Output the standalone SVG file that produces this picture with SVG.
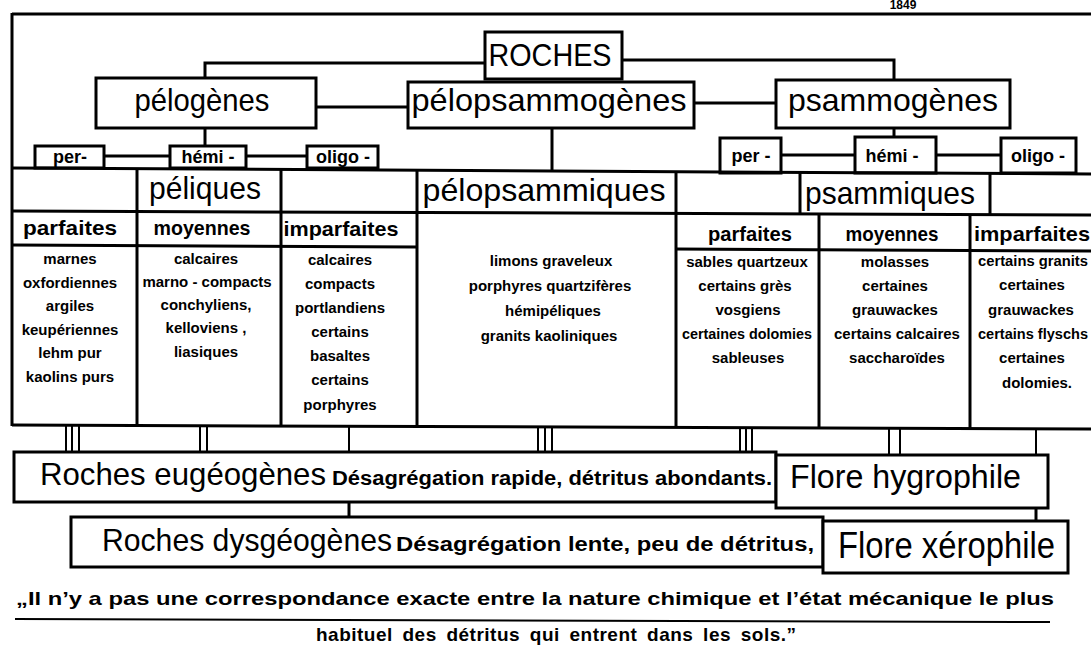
<svg xmlns="http://www.w3.org/2000/svg" width="1091" height="646" viewBox="0 0 1091 646">
<style>
.bx{fill:#fff;stroke:#000;stroke-width:3}
.ln{fill:none;stroke:#000;stroke-width:3}
.lt{fill:none;stroke:#000;stroke-width:2}
text{font-family:"Liberation Sans",Arial,sans-serif;fill:#000}
.big{font-size:32px;text-anchor:middle}
.bl{font-size:32px}
.hd{font-size:21px;font-weight:bold;text-anchor:middle}
.sm{font-size:18px;font-weight:bold;text-anchor:middle}
.ct{font-size:15px;font-weight:bold;text-anchor:middle}
.ds{font-size:20px;font-weight:bold}
.q{font-size:19px;font-weight:bold}
</style>
<rect width="1091" height="646" fill="#fff"/>
<text x="903" y="9" font-size="12" font-weight="bold" text-anchor="middle">1849</text>

<g id="frame" class="ln">
  <line x1="12" y1="14" x2="1091" y2="14"/>
  <line x1="12" y1="13" x2="12" y2="426"/>
</g>

<g id="connectors">
  <g class="ln">
    <polyline points="485,63 205,63 205,78"/>
    <polyline points="622,60 894,60 894,80"/>
    <line x1="316" y1="107" x2="408" y2="107"/>
    <line x1="694" y1="103" x2="776" y2="103"/>
    <line x1="205" y1="128" x2="205" y2="146"/>
    <line x1="552" y1="128" x2="552" y2="171"/>
    <line x1="894" y1="128" x2="894" y2="138"/>
    <line x1="104" y1="156" x2="170" y2="156"/>
    <line x1="246" y1="156" x2="307" y2="156"/>
    <line x1="781" y1="155" x2="855" y2="155"/>
    <line x1="936" y1="155" x2="1001" y2="155"/>
    <line x1="349" y1="502" x2="349" y2="517"/>
    <line x1="1036" y1="508" x2="1036" y2="522"/>
  </g>
  <g class="lt">
    <line x1="66" y1="426" x2="66" y2="452"/>
    <line x1="72" y1="426" x2="72" y2="452"/>
    <line x1="79" y1="426" x2="79" y2="452"/>
    <line x1="200" y1="426" x2="200" y2="452"/>
    <line x1="207" y1="426" x2="207" y2="452"/>
    <line x1="349" y1="427" x2="349" y2="452"/>
    <line x1="538" y1="427" x2="538" y2="453"/>
    <line x1="545" y1="427" x2="545" y2="453"/>
    <line x1="552" y1="427" x2="552" y2="453"/>
    <line x1="740" y1="428" x2="740" y2="454"/>
    <line x1="746" y1="428" x2="746" y2="454"/>
    <line x1="752" y1="428" x2="752" y2="454"/>
    <line x1="889" y1="428" x2="889" y2="456"/>
    <line x1="900" y1="428" x2="900" y2="456"/>
    <line x1="1036" y1="429" x2="1036" y2="456"/>
  </g>
</g>

<g id="roches">
  <rect class="bx" x="485" y="32" width="137" height="47"/>
  <text class="big" x="550" y="66" textLength="123" lengthAdjust="spacingAndGlyphs">ROCHES</text>
</g>
<g id="pelogenes">
  <rect class="bx" x="96" y="78" width="220" height="50"/>
  <text class="big" x="202" y="111" textLength="135" lengthAdjust="spacingAndGlyphs">pélogènes</text>
</g>
<g id="pelopsammogenes">
  <rect class="bx" x="408" y="82" width="286" height="46"/>
  <text class="big" x="549" y="111" textLength="275" lengthAdjust="spacingAndGlyphs">pélopsammogènes</text>
</g>
<g id="psammogenes">
  <rect class="bx" x="776" y="80" width="234" height="48"/>
  <text class="big" x="893" y="111" textLength="210" lengthAdjust="spacingAndGlyphs">psammogènes</text>
</g>

<g id="pel-per"><rect class="bx" x="35" y="146" width="69" height="22"/><text class="sm" x="70" y="163">per-</text></g>
<g id="pel-hemi"><rect class="bx" x="170" y="146" width="76" height="22"/><text class="sm" x="208" y="163">hémi -</text></g>
<g id="pel-oligo"><rect class="bx" x="307" y="146" width="71" height="22"/><text class="sm" x="343" y="163">oligo -</text></g>
<g id="psa-per"><rect class="bx" x="720" y="138" width="61" height="35"/><text class="sm" x="751" y="162">per -</text></g>
<g id="psa-hemi"><rect class="bx" x="855" y="137" width="81" height="36"/><text class="sm" x="892" y="162">hémi -</text></g>
<g id="psa-oligo"><rect class="bx" x="1001" y="138" width="75" height="35"/><text class="sm" x="1038" y="162">oligo -</text></g>

<g id="table" class="ln">
  <line x1="12" y1="168" x2="1091" y2="174"/>
  <line x1="12" y1="211" x2="1091" y2="215"/>
  <line x1="12" y1="245" x2="417" y2="247"/>
  <line x1="676" y1="249" x2="1091" y2="251"/>
  <line x1="12" y1="425" x2="1091" y2="429"/>
  <line x1="137" y1="168" x2="137" y2="426"/>
  <line x1="281" y1="169" x2="281" y2="426"/>
  <line x1="417" y1="170" x2="417" y2="427"/>
  <line x1="676" y1="171" x2="676" y2="428"/>
  <line x1="800" y1="172" x2="800" y2="214"/>
  <line x1="990" y1="173" x2="990" y2="215"/>
  <line x1="819" y1="214" x2="819" y2="429"/>
  <line x1="970" y1="215" x2="970" y2="429"/>
</g>

<g id="peliques"><text class="big" x="205" y="199" textLength="112" lengthAdjust="spacingAndGlyphs">péliques</text></g>
<g id="pelopsammiques"><text class="big" x="544" y="201" textLength="243" lengthAdjust="spacingAndGlyphs">pélopsammiques</text></g>
<g id="psammiques"><text class="big" x="890" y="204" textLength="170" lengthAdjust="spacingAndGlyphs">psammiques</text></g>

<g id="pel-parfaites">
  <text class="hd" x="70" y="235" textLength="94" lengthAdjust="spacingAndGlyphs">parfaites</text>
  <text class="ct" x="70" y="264">marnes</text>
  <text class="ct" x="70" y="288">oxfordiennes</text>
  <text class="ct" x="70" y="311">argiles</text>
  <text class="ct" x="70" y="335">keupériennes</text>
  <text class="ct" x="70" y="358">lehm  pur</text>
  <text class="ct" x="70" y="382">kaolins  purs</text>
</g>
<g id="pel-moyennes">
  <text class="hd" x="202" y="235" textLength="97" lengthAdjust="spacingAndGlyphs">moyennes</text>
  <text class="ct" x="206" y="264">calcaires</text>
  <text class="ct" x="207" y="287">marno - compacts</text>
  <text class="ct" x="206" y="310">conchyliens,</text>
  <text class="ct" x="206" y="333">kelloviens ,</text>
  <text class="ct" x="206" y="357">liasiques</text>
</g>
<g id="pel-imparfaites">
  <text class="hd" x="341" y="236" textLength="115" lengthAdjust="spacingAndGlyphs">imparfaites</text>
  <text class="ct" x="340" y="265">calcaires</text>
  <text class="ct" x="340" y="289">compacts</text>
  <text class="ct" x="340" y="313">portlandiens</text>
  <text class="ct" x="340" y="337">certains</text>
  <text class="ct" x="340" y="361">basaltes</text>
  <text class="ct" x="340" y="385">certains</text>
  <text class="ct" x="340" y="410">porphyres</text>
</g>
<g id="pelopsammiques-list">
  <text class="ct" x="551" y="266">limons  graveleux</text>
  <text class="ct" x="550" y="291">porphyres  quartzifères</text>
  <text class="ct" x="553" y="316">hémipéliques</text>
  <text class="ct" x="549" y="341">granits  kaoliniques</text>
</g>
<g id="psa-parfaites">
  <text class="hd" x="750" y="241" textLength="84" lengthAdjust="spacingAndGlyphs">parfaites</text>
  <text class="ct" x="747" y="267">sables quartzeux</text>
  <text class="ct" x="745" y="291">certains  grès</text>
  <text class="ct" x="748" y="315">vosgiens</text>
  <text class="ct" x="747" y="339" textLength="130" lengthAdjust="spacingAndGlyphs">certaines dolomies</text>
  <text class="ct" x="748" y="363">sableuses</text>
</g>
<g id="psa-moyennes">
  <text class="hd" x="892" y="241" textLength="93" lengthAdjust="spacingAndGlyphs">moyennes</text>
  <text class="ct" x="895" y="267">molasses</text>
  <text class="ct" x="895" y="291">certaines</text>
  <text class="ct" x="895" y="315">grauwackes</text>
  <text class="ct" x="897" y="339">certains  calcaires</text>
  <text class="ct" x="897" y="363">saccharoïdes</text>
</g>
<g id="psa-imparfaites">
  <text class="hd" x="1032" y="241" textLength="116" lengthAdjust="spacingAndGlyphs">imparfaites</text>
  <text class="ct" x="1033" y="266" textLength="110" lengthAdjust="spacingAndGlyphs">certains granits</text>
  <text class="ct" x="1032" y="290">certaines</text>
  <text class="ct" x="1031" y="315">grauwackes</text>
  <text class="ct" x="1033" y="339" textLength="110" lengthAdjust="spacingAndGlyphs">certains flyschs</text>
  <text class="ct" x="1032" y="363">certaines</text>
  <text class="ct" x="1037" y="388">dolomies.</text>
</g>

<g id="eugeogenes">
  <rect class="bx" x="14" y="452" width="762" height="50"/>
  <text class="bl" x="40" y="485" textLength="286" lengthAdjust="spacingAndGlyphs">Roches  eugéogènes</text>
  <text class="ds" x="332" y="485" textLength="440" lengthAdjust="spacingAndGlyphs">Désagrégation  rapide, détritus  abondants.</text>
</g>
<g id="hygrophile">
  <rect class="bx" x="776" y="455" width="272" height="53"/>
  <text x="790" y="488" font-size="34" textLength="231" lengthAdjust="spacingAndGlyphs">Flore  hygrophile</text>
</g>
<g id="dysgeogenes">
  <rect class="bx" x="71" y="517" width="752" height="50"/>
  <text class="bl" x="102" y="551" textLength="290" lengthAdjust="spacingAndGlyphs">Roches  dysgéogènes</text>
  <text class="ds" x="396" y="551" textLength="418" lengthAdjust="spacingAndGlyphs">Désagrégation  lente, peu  de  détritus,</text>
</g>
<g id="xerophile">
  <rect class="bx" x="823" y="521" width="245" height="52"/>
  <text x="838" y="558" font-size="36" textLength="217" lengthAdjust="spacingAndGlyphs">Flore xérophile</text>
</g>

<g id="quote">
  <text class="q" x="16" y="605" textLength="1038" lengthAdjust="spacingAndGlyphs">„Il n’y a  pas  une  correspondance  exacte  entre  la  nature  chimique  et  l’état  mécanique  le  plus</text>
  <line x1="15" y1="619" x2="1050" y2="622" stroke="#000" stroke-width="2"/>
  <text class="q" x="316" y="641" word-spacing="4" textLength="480" lengthAdjust="spacing">habituel des détritus qui entrent dans les sols.”</text>
</g>
</svg>
